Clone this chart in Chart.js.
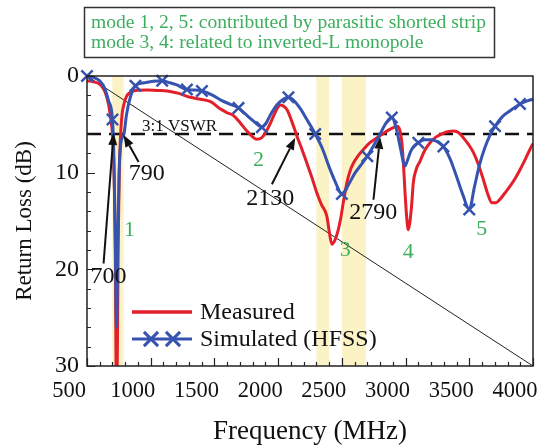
<!DOCTYPE html>
<html><head><meta charset="utf-8">
<script src="https://cdn.jsdelivr.net/npm/chart.js@4.4.1/dist/chart.umd.min.js"></script>
<style>html,body{margin:0;padding:0;background:#fff;}canvas{display:block;}</style>
</head><body>
<canvas id="c" width="558" height="448"></canvas>
<script>
// ---- data ----
const xTicks = [500, 1000, 1500, 2000, 2500, 3000, 3500, 4000];
const yTicks = [0, 10, 20, 30];
const xMinorStep = 100, yMinorStep = 2;

const measFreq = [500,550,600,640,670,690,700,712,722,730,736,744,752,762,775,790,810,840,880,970,1050,1130,1220,1310,1390,1470,1545,1600,1650,1700,1755,1800,1833,1870,1900,1935,1965,1995,2016,2040,2070,2110,2147,2190,2225,2265,2304,2340,2382,2400,2421,2445,2470,2490,2515,2540,2565,2591,2630,2669,2720,2774,2820,2853,2895,2931,2955,2971,2985,2996,3010,3022,3035,3048,3061,3085,3114,3150,3192,3240,3290,3340,3380,3420,3454,3495,3532,3570,3610,3645,3676,3710,3741,3780,3820,3860,3898,3940,3976,4000];
const measVal  = [0.5,0.6,0.86,1.6,3.0,4.8,6.0,10,18,32,32,18,11,6.5,4.0,2.9,2.1,1.7,1.5,1.45,1.5,1.55,1.8,2.2,2.4,2.65,3.4,3.8,4.1,4.8,5.7,6.3,6.55,6.4,5.9,5.0,4.1,3.3,3.0,3.1,3.5,4.8,6.2,7.7,9.0,10.5,12.1,13.3,14.5,16.0,17.4,17.0,16.0,14.8,12.8,11.0,9.8,9.0,8.2,7.6,6.9,6.4,6.0,5.7,5.4,5.2,5.6,6.9,9.5,12.1,14.8,15.9,15.0,13.3,11.0,9.6,8.8,7.7,6.9,6.3,5.95,5.75,5.7,5.9,6.4,7.1,7.9,9.1,10.7,12.2,13.1,13.1,12.75,12.1,11.4,10.6,9.7,8.6,7.6,7.0];

const simFreq = [500,550,600,640,670,700,712,722,732,742,752,765,790,810,840,880,950,1020,1090,1150,1200,1284,1340,1402,1480,1550,1620,1689,1740,1800,1850,1872,1900,1940,1990,2040,2081,2120,2170,2230,2291,2350,2400,2450,2500,2550,2600,2650,2700,2750,2800,2850,2892,2930,2960,2985,2996,3010,3040,3070,3100,3150,3200,3250,3297,3350,3400,3450,3500,3540,3580,3620,3660,3702,3760,3820,3898,3950,4000];
const simVal  = [0.0,0.15,0.5,1.3,2.6,4.5,9,17,26,17,10,7,6.0,4.0,2.2,1.0,0.7,0.55,0.5,0.7,0.9,1.4,1.45,1.55,1.95,2.5,2.9,3.3,3.9,4.6,5.15,5.3,5.0,4.0,3.0,2.4,2.2,2.5,3.3,4.6,6.0,7.6,9.4,11.0,12.2,11.3,10.1,9.2,8.3,7.2,6.0,4.8,4.3,5.6,7.5,9.0,9.3,8.9,7.8,7.2,6.9,6.6,6.6,6.8,7.3,8.6,10.4,12.3,13.8,11.5,9.2,7.5,6.2,5.2,4.2,3.6,2.9,2.6,2.4];
const simMarkerFreq = [500,700,880,1090,1284,1402,1689,1872,2081,2291,2500,2700,2892,3100,3297,3500,3702,3898];

const vswrFreq = [500, 4000], vswrVal = [6, 6];
const diagFreq = [500, 4000], diagVal = [0, 30];

const bandStart = [698, 2300, 2500];
const bandEnd   = [787, 2400, 2690];

const modeLabels = ['1','2','3','4','5'];
const modeFreq = [834, 1846, 2526, 3022, 3598];
const modeVal  = [16.0, 8.7, 18.0, 18.2, 15.9];

const arrowLabels   = ['700','790','2130','2790'];
const arrowTextFreq = [669, 969, 1938, 2746];
const arrowTextVal  = [20.8, 10.1, 12.7, 14.1];
const arrowTailFreq = [630, 905, 1951, 2748];
const arrowTailVal  = [19.4, 8.9, 11.2, 12.8];
const arrowTipFreq  = [709, 787, 2134, 2800];
const arrowTipVal   = [5.9, 6.1, 6.4, 6.3];

const vswrText = '3:1 VSWR', vswrTextFreq = 931, vswrTextVal = 5.2;
const noteLines = ['mode 1, 2, 5: contributed by parasitic shorted strip', 'mode 3, 4: related to inverted-L monopole'];
const legendLabels = ['Measured', 'Simulated (HFSS)'];
const xTitle = 'Frequency (MHz)', yTitle = 'Return Loss (dB)';

// ---- styles ----
const RED = '#e3202a', BLUE = '#3653b0', GREEN = '#3dae5e', BAND = '#fbf3c6';
const SERIF = '"Liberation Serif", "Times New Roman", serif';

const toXY = (xs, ys) => xs.map((x, i) => ({x, y: ys[i]}));

function drawCross(ctx, x, y, r) {
  const d = r * Math.SQRT1_2;
  ctx.beginPath();
  ctx.moveTo(x - d, y - d); ctx.lineTo(x + d, y + d);
  ctx.moveTo(x - d, y + d); ctx.lineTo(x + d, y - d);
  ctx.stroke();
}
function drawArrow(ctx, x0, y0, x1, y1) {
  const a = Math.atan2(y1 - y0, x1 - x0), L = 12, W = 4.5;
  const bx = x1 - L * Math.cos(a), by = y1 - L * Math.sin(a);
  ctx.beginPath(); ctx.moveTo(x0, y0); ctx.lineTo(bx, by); ctx.stroke();
  ctx.beginPath(); ctx.moveTo(x1, y1);
  ctx.lineTo(bx - W * Math.sin(a), by + W * Math.cos(a));
  ctx.lineTo(bx + W * Math.sin(a), by - W * Math.cos(a));
  ctx.closePath(); ctx.fill();
}

const bandPlugin = {
  id: 'bands',
  beforeDatasetsDraw(chart) {
    const {ctx, chartArea: ca, scales: {x}} = chart;
    ctx.save(); ctx.fillStyle = BAND;
    bandStart.forEach((s, i) => {
      const x1 = x.getPixelForValue(s), x2 = x.getPixelForValue(bandEnd[i]);
      ctx.fillRect(x1, ca.top, x2 - x1, ca.bottom - ca.top);
    });
    ctx.restore();
  }
};

const decorPlugin = {
  id: 'decor',
  afterDatasetsDraw(chart) {
    const {ctx, chartArea: ca, scales: {x, y}} = chart;
    ctx.save();
    ctx.strokeStyle = '#222'; ctx.lineWidth = 1.5;
    ctx.strokeRect(ca.left, ca.top, ca.right - ca.left, ca.bottom - ca.top);
    ctx.lineWidth = 1.2; ctx.beginPath();
    for (let v = x.min; v <= x.max; v += xMinorStep) {
      const px = Math.round(x.getPixelForValue(v)) + 0.5;
      const len = xTicks.includes(v) ? 8 : 4;
      ctx.moveTo(px, ca.bottom); ctx.lineTo(px, ca.bottom - len);
    }
    for (let v = y.min; v <= y.max; v += yMinorStep) {
      const py = Math.round(y.getPixelForValue(v)) + 0.5;
      const len = yTicks.includes(v) ? 8 : 4;
      ctx.moveTo(ca.left, py); ctx.lineTo(ca.left + len, py);
    }
    ctx.stroke();

    ctx.fillStyle = '#111'; ctx.textBaseline = 'middle'; ctx.textAlign = 'left';
    ctx.font = '17px ' + SERIF;
    ctx.fillText(vswrText, x.getPixelForValue(vswrTextFreq), y.getPixelForValue(vswrTextVal));

    ctx.strokeStyle = '#111'; ctx.fillStyle = '#111'; ctx.lineWidth = 2;
    ctx.font = '24px ' + SERIF; ctx.textAlign = 'center';
    arrowLabels.forEach((t, i) => {
      drawArrow(ctx, x.getPixelForValue(arrowTailFreq[i]), y.getPixelForValue(arrowTailVal[i]),
                     x.getPixelForValue(arrowTipFreq[i]), y.getPixelForValue(arrowTipVal[i]));
      ctx.fillText(t, x.getPixelForValue(arrowTextFreq[i]), y.getPixelForValue(arrowTextVal[i]));
    });

    ctx.fillStyle = GREEN; ctx.font = '22px ' + SERIF;
    modeLabels.forEach((t, i) => ctx.fillText(t, x.getPixelForValue(modeFreq[i]), y.getPixelForValue(modeVal[i])));

    const ds = chart.data.datasets;
    const lx0 = ca.left + 45, lx1 = ca.left + 105, tx = ca.left + 113;
    const ly = [ca.bottom - 54, ca.bottom - 27];
    ctx.textAlign = 'left'; ctx.font = '24px ' + SERIF;
    ctx.lineWidth = ds[0].borderWidth + 0.5; ctx.strokeStyle = ds[0].borderColor;
    ctx.beginPath(); ctx.moveTo(lx0, ly[0]); ctx.lineTo(lx1, ly[0]); ctx.stroke();
    ctx.lineWidth = ds[1].borderWidth; ctx.strokeStyle = ds[1].borderColor;
    ctx.beginPath(); ctx.moveTo(lx0, ly[1]); ctx.lineTo(lx1, ly[1]); ctx.stroke();
    ctx.lineWidth = 3;
    drawCross(ctx, lx0 + 19, ly[1], 10); drawCross(ctx, lx0 + 41, ly[1], 10);
    ctx.fillStyle = '#111';
    ctx.fillText(legendLabels[0], tx, ly[0] + 1);
    ctx.fillText(legendLabels[1], tx, ly[1] + 1);

    ctx.strokeStyle = '#333'; ctx.lineWidth = 1.5;
    ctx.strokeRect(84.5, 7.5, 410, 50);
    ctx.fillStyle = GREEN; ctx.font = '19.6px ' + SERIF;
    ctx.fillText(noteLines[0], 91, 23);
    ctx.fillText(noteLines[1], 91, 43);
    ctx.restore();
  }
};

new Chart(document.getElementById('c'), {
  type: 'line',
  data: {
    datasets: [
      { label: legendLabels[0], data: toXY(measFreq, measVal), borderColor: RED, borderWidth: 3,
        pointRadius: 0, cubicInterpolationMode: 'monotone', order: 1 },
      { label: legendLabels[1], data: toXY(simFreq, simVal), borderColor: BLUE, borderWidth: 3,
        pointStyle: 'crossRot', pointBorderColor: BLUE, pointBorderWidth: 2.5,
        pointRadius: ctx => (ctx.raw && simMarkerFreq.includes(ctx.raw.x)) ? 8 : 0,
        cubicInterpolationMode: 'monotone', clip: false, order: 0 },
      { label: '3:1 VSWR', data: toXY(vswrFreq, vswrVal), borderColor: '#111', borderWidth: 2.5,
        borderDash: [14, 8], pointRadius: 0, order: 2 },
      { label: 'ref', data: toXY(diagFreq, diagVal), borderColor: '#222', borderWidth: 1,
        pointRadius: 0, order: 3 }
    ]
  },
  options: {
    responsive: false, animation: false, devicePixelRatio: 1,
    layout: { padding: { left: 0, right: 25, top: 76, bottom: 0 } },
    plugins: { legend: { display: false }, tooltip: { enabled: false } },
    scales: {
      x: {
        type: 'linear', min: 500, max: 4000,
        afterFit: s => { s.height = 82; s.paddingRight = 0; s.paddingLeft = 0; },
        afterBuildTicks: s => { s.ticks = xTicks.map(v => ({value: v})); },
        grid: { display: false, drawTicks: false }, border: { display: false },
        ticks: { color: '#111', padding: 12, labelOffset: -18, font: { family: SERIF, size: 22.5 }, maxRotation: 0,
                 callback: v => String(v) },
        title: { display: true, text: xTitle, color: '#111', font: { family: SERIF, size: 27 }, padding: { top: 0, bottom: 0 } }
      },
      y: {
        type: 'linear', min: 0, max: 30, reverse: true,
        afterFit: s => { s.width = 87; s.paddingTop = 0; s.paddingBottom = 0; },
        afterBuildTicks: s => { s.ticks = yTicks.map(v => ({value: v})); },
        grid: { display: false, drawTicks: false }, border: { display: false },
        ticks: { color: '#111', padding: 8, font: { family: SERIF, size: 24 }, callback: v => String(v) },
        title: { display: true, text: yTitle, color: '#111', font: { family: SERIF, size: 23 }, padding: { top: 11, bottom: 0 } }
      }
    }
  },
  plugins: [bandPlugin, decorPlugin]
});
</script>
</body></html>
